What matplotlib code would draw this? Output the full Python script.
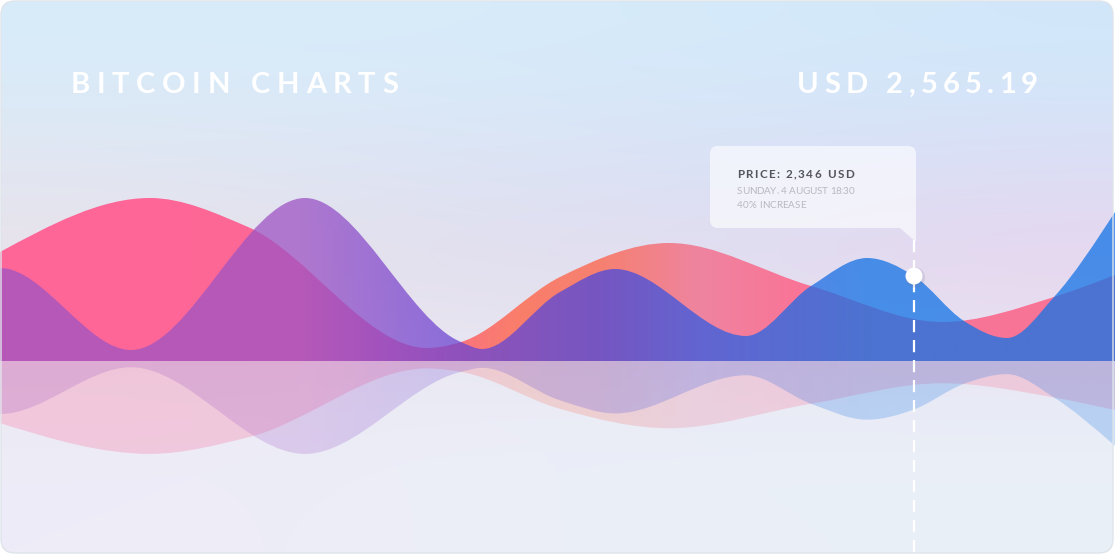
import numpy as np
import matplotlib.pyplot as plt
from matplotlib.path import Path
from matplotlib.patches import PathPatch, FancyBboxPatch, Circle

W, H = 1115, 555
BASE = 361          # baseline row (px from top)
MIRROR = 0.57       # reflection squash

# pink/orange series: time position, height above baseline
pink_t = [0, 150, 248, 427, 461, 560, 669, 811, 942, 1054, 1115]
pink_vals = [109, 163, 134, 13, 19, 84, 118, 75, 39, 64, 86]

# purple/blue series
wave_t = [0, 131, 305, 461, 482, 560, 615, 746, 811, 867, 914, 964, 1007, 1054, 1115]
wave_vals = [93, 11, 163, 19, 12, 69, 92, 25, 75, 103, 85, 40, 23, 64, 149]

cursor_t = 914
cursor_val = 85

title = "BITCOIN CHARTS"
price = "USD 2,565.19"
tip_lines = ["PRICE: 2,346 USD", "SUNDAY, 4 AUGUST 18:30", "40% INCREASE"]


def monotone_slopes(x, y, start_slope=None):
    x = np.asarray(x, float)
    y = np.asarray(y, float)
    h = np.diff(x)
    s = np.diff(y) / h
    t = np.zeros(len(x))
    for i in range(1, len(x) - 1):
        p = (s[i - 1] * h[i] + s[i] * h[i - 1]) / (h[i - 1] + h[i])
        t[i] = (np.sign(s[i - 1]) + np.sign(s[i])) * min(abs(s[i - 1]), abs(s[i]), 0.5 * abs(p))
    t[0] = (3 * s[0] - t[1]) / 2
    t[-1] = (3 * s[-1] - t[-2]) / 2
    if start_slope is not None:
        t[0] = start_slope
    return t


def area_path(x, y, scale=1.0, start_slope=None):
    t = monotone_slopes(x, y, start_slope)
    verts = [(x[0], 0), (x[0], y[0] * scale)]
    codes = [Path.MOVETO, Path.LINETO]
    for i in range(len(x) - 1):
        h = x[i + 1] - x[i]
        verts += [(x[i] + h / 3, (y[i] + t[i] * h / 3) * scale),
                  (x[i + 1] - h / 3, (y[i + 1] - t[i + 1] * h / 3) * scale),
                  (x[i + 1], y[i + 1] * scale)]
        codes += [Path.CURVE4] * 3
    verts += [(x[-1], 0), (x[0], 0)]
    codes += [Path.LINETO, Path.CLOSEPOLY]
    return Path(verts, codes)


def hgrad(xs, colors, alpha):
    cols = np.array(colors, float) / 255
    grid = np.linspace(0, W, 600)
    img = np.ones((1, len(grid), 4))
    for c in range(3):
        img[0, :, c] = np.interp(grid, xs, cols[:, c])
    img[0, :, 3] = alpha
    return img


def tracked(ax, x0, x1, y, s, size, color, weight="normal", family="Lato"):
    r = fig.canvas.get_renderer()
    widths = []
    for ch in s:
        if ch == " ":
            widths.append(size * 100 / 72 * 0.28)
        else:
            tt = ax.text(0, 0, ch, fontsize=size, fontweight=weight, family=family)
            widths.append(tt.get_window_extent(r).width)
            tt.remove()
    track = (x1 - x0 - sum(widths)) / (len(s) - 1)
    x = x0
    for ch, w in zip(s, widths):
        if ch != " ":
            ax.text(x, y, ch, fontsize=size, fontweight=weight, family=family,
                    color=color, ha="left", va="baseline", zorder=10)
        x += w + track


fig = plt.figure(figsize=(W / 100, H / 100), dpi=100, facecolor="white")

# background card
bg = fig.add_axes([0, 0, 1, 1], zorder=0)
bg.set_xlim(0, W)
bg.set_ylim(H, 0)
bg.set_axis_off()
card = FancyBboxPatch((1, 1), W - 3, H - 3, boxstyle="round,pad=0,rounding_size=14",
                      facecolor="none", edgecolor="none")
bg.add_patch(card)
bg_cols = np.array([
    [(216, 236, 250), (216, 236, 250), (213, 234, 250), (209, 232, 250)],
    [(226, 230, 242), (222, 228, 244), (218, 226, 246), (220, 222, 246)],
    [(234, 226, 232), (228, 222, 236), (226, 220, 238), (233, 212, 236)],
    [(236, 234, 244), (236, 236, 246), (234, 236, 246), (232, 236, 246)],
    [(238, 236, 248), (236, 238, 248), (234, 240, 248), (234, 240, 248)],
], float) / 255
im = bg.imshow(bg_cols, extent=(0, W, H, 0), aspect="auto", interpolation="bicubic")
im.set_clip_path(card)
bg.set_xlim(0, W)
bg.set_ylim(H, 0)

# chart
ax = fig.add_axes([0, 0, 1, 1], zorder=1)
ax.patch.set_visible(False)
ax.set_axis_off()

pink_stops = [0, 380, 520, 600, 700, 800, W]
pink_cols = [(254, 102, 152), (252, 104, 150), (249, 126, 106), (246, 128, 112),
             (238, 132, 160), (250, 116, 150), (248, 116, 150)]
wave_stops = [0, 300, 450, 600, 750, 870, W]
wave_cols = [(160, 85, 195), (158, 84, 196), (110, 70, 210), (75, 72, 222),
             (40, 100, 228), (18, 115, 230), (20, 115, 230)]
ext = (0, W, -(H - BASE), BASE)

for scale, a in [(1.0, 1.0), (-MIRROR, 0.26)]:
    p1 = PathPatch(area_path(pink_t, pink_vals, scale), transform=ax.transData,
                   facecolor="none", edgecolor="none")
    g1 = ax.imshow(hgrad(pink_stops, pink_cols, a), extent=ext, aspect="auto",
                   interpolation="bilinear", zorder=2)
    g1.set_clip_path(p1)
    p2 = PathPatch(area_path(wave_t, wave_vals, scale, start_slope=0), transform=ax.transData,
                   facecolor="none", edgecolor="none")
    g2 = ax.imshow(hgrad(wave_stops, wave_cols, 0.75 * a * (1 if a == 1 else 1.15)),
                   extent=ext, aspect="auto", interpolation="bilinear", zorder=3)
    g2.set_clip_path(p2)

ax.set_xlim(0, W)
ax.set_ylim(-(H - BASE), BASE)

# overlay: tooltip, cursor, headings
ov = fig.add_axes([0, 0, 1, 1], zorder=2)
ov.patch.set_visible(False)
ov.set_axis_off()
ov.set_xlim(0, W)
ov.set_ylim(H, 0)

cx, cy = cursor_t, BASE - cursor_val
ov.plot([cx, cx], [240, H - 2], color="white", lw=1.6, dashes=(5.5, 3.5), zorder=5)
ov.add_patch(Circle((cx + 1, cy + 1.5), 10, color=(0.45, 0.45, 0.6), alpha=0.18, lw=0, zorder=6))
ov.add_patch(Circle((cx, cy), 8.5, color="white", lw=0, zorder=7))

L, R, T, B, r = 710, 916, 146, 228, 8
tip = Path([(L + r, T), (R - r, T), (R, T), (R, T + r), (R, B + 14), (R - 16, B),
            (L + r, B), (L, B), (L, B - r), (L, T + r), (L, T), (L + r, T), (L + r, T)],
           [Path.MOVETO, Path.LINETO, Path.CURVE3, Path.CURVE3, Path.LINETO, Path.LINETO,
            Path.LINETO, Path.CURVE3, Path.CURVE3, Path.LINETO, Path.CURVE3, Path.CURVE3,
            Path.CLOSEPOLY])
ov.add_patch(PathPatch(tip, facecolor="white", alpha=0.62, edgecolor="none", zorder=4))

tracked(ov, 737, 854, 177.5, tip_lines[0], 8.4, "#55555c", weight="bold")
tracked(ov, 737, 854, 194, tip_lines[1], 7.1, "#b8b8c3")
tracked(ov, 737, 806, 207.5, tip_lines[2], 7.1, "#b8b8c3")

tracked(ov, 71, 398, 93, title, 21, "white", weight="bold")
tracked(ov, 797, 1038, 93, price, 21, "white", weight="bold")

ov.add_patch(FancyBboxPatch((1, 1), W - 3, H - 3, boxstyle="round,pad=0,rounding_size=14",
                            facecolor="none", edgecolor="#dfe4ea", lw=1, zorder=9))

fig.savefig("out.png", dpi=100, facecolor="white")
